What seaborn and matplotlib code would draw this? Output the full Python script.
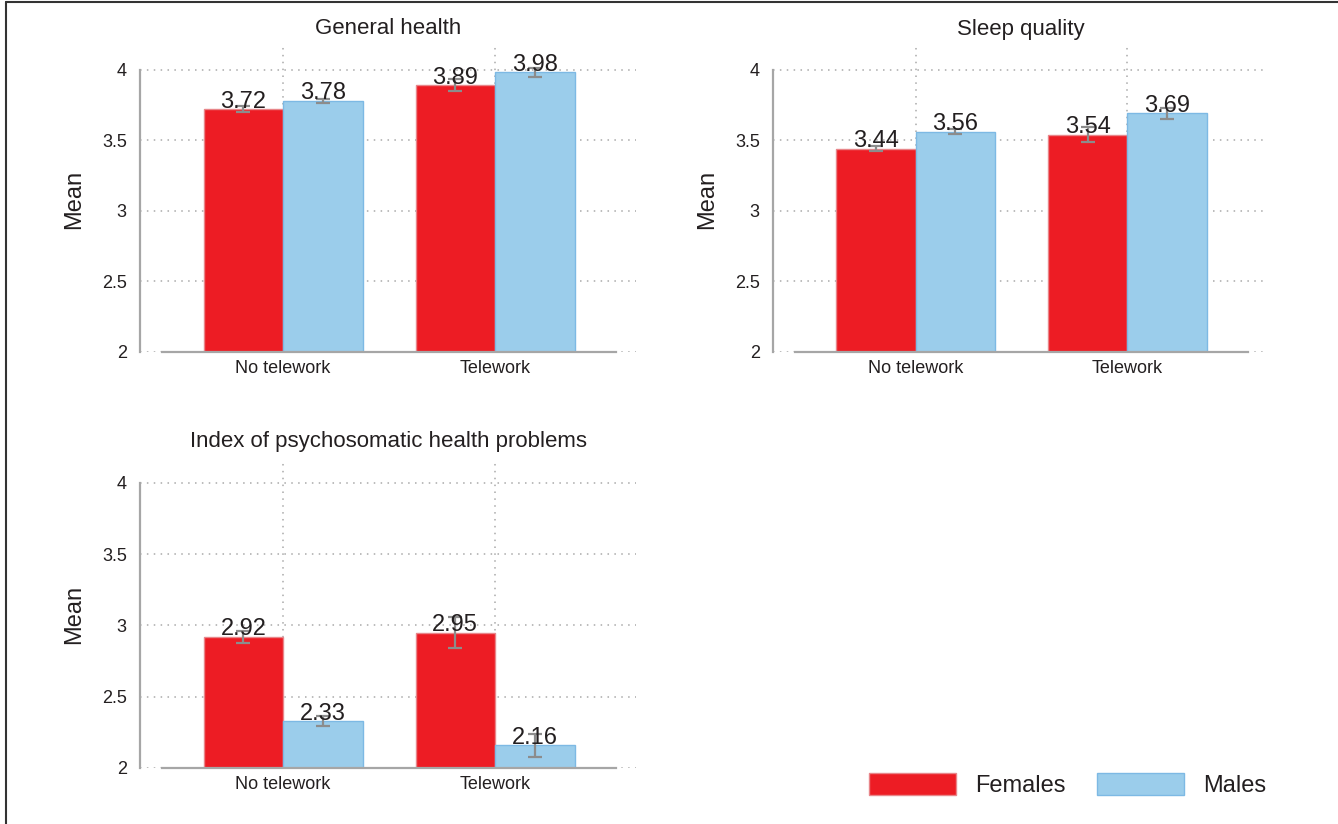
import numpy as np
import pandas as pd
import matplotlib
matplotlib.use("Agg")
import matplotlib.pyplot as plt
from matplotlib.lines import Line2D
from matplotlib.patches import Patch
import seaborn as sns

# Work status groups and sexes
groups = ["No telework", "Telework"]
sexes = ["Females", "Males"]

# Means per outcome (ordered as groups) and half-widths of the confidence intervals
gh_females = [3.72, 3.89]
gh_males = [3.78, 3.98]
gh_err_females = [0.02, 0.045]
gh_err_males = [0.015, 0.03]

sq_females = [3.44, 3.54]
sq_males = [3.56, 3.69]
sq_err_females = [0.02, 0.05]
sq_err_males = [0.018, 0.04]

ps_females = [2.92, 2.95]
ps_males = [2.33, 2.16]
ps_err_females = [0.04, 0.11]
ps_err_males = [0.035, 0.08]

titles = ["General health", "Sleep quality", "Index of psychosomatic health problems"]
ytick_values = [2, 2.5, 3, 3.5, 4]
ytick_labels = ["2", "2.5", "3", "3.5", "4"]

outcomes = [
    (titles[0], gh_females, gh_males, gh_err_females, gh_err_males),
    (titles[1], sq_females, sq_males, sq_err_females, sq_err_males),
    (titles[2], ps_females, ps_males, ps_err_females, ps_err_males),
]

RED = "#ED1C24"
BLUE = "#9BCDEB"
EDGES = {"Females": "#E8868A", "Males": "#7DB9E4"}
TEXT = "#231F20"
AXIS_GRAY = "#A6A6A6"
ERR_GRAY = "#8C8C8C"

sns.set_theme(style="white")
plt.rcParams["font.family"] = ["Liberation Sans", "DejaVu Sans"]

W, H = 1338, 824
fig = plt.figure(figsize=(W / 100, H / 100), dpi=100)


def px_axes(left, top, right, bottom):
    return fig.add_axes([left / W, 1 - bottom / H, (right - left) / W, (bottom - top) / H])


axes = [
    px_axes(140, 47, 636, 352),
    px_axes(773, 47, 1268, 352),
    px_axes(140, 460, 636, 768),
]

for ax, (title, f_vals, m_vals, f_err, m_err) in zip(axes, outcomes):
    df = pd.DataFrame({
        "group": groups * 2,
        "sex": [sexes[0]] * len(groups) + [sexes[1]] * len(groups),
        "mean": f_vals + m_vals,
    })
    sns.barplot(data=df, x="group", y="mean", hue="sex", order=groups, hue_order=sexes,
                palette=[RED, BLUE], errorbar=None, width=0.75, ax=ax, legend=False,
                saturation=1, zorder=3)

    errs = {"Females": f_err, "Males": m_err}
    for container, sex in zip(ax.containers, sexes):
        xs, ys = [], []
        for bar in container:
            bar.set_edgecolor(EDGES[sex])
            bar.set_linewidth(1.0)
            xs.append(bar.get_x() + bar.get_width() / 2)
            ys.append(bar.get_height())
        ax.errorbar(xs, ys, yerr=errs[sex], fmt="none", ecolor=ERR_GRAY,
                    elinewidth=1.6, capsize=5, capthick=1.6, zorder=5)
        for x, y in zip(xs, ys):
            ax.annotate(f"{y:.2f}", (x, y), xytext=(0, 1), textcoords="offset points",
                        ha="center", va="baseline", fontsize=17, color=TEXT, zorder=6)

    ax.set_xlim(-0.675, 1.665)
    ax.set_ylim(2, 4.16)
    ax.set_yticks(ytick_values)
    ax.set_yticklabels(ytick_labels)
    ax.set_xlabel("")
    ax.set_ylabel("Mean", fontsize=17, color=TEXT, labelpad=12)
    ax.set_title(title, fontsize=16, color=TEXT, pad=9)

    ax.tick_params(axis="y", length=6.5, width=1.2, color=AXIS_GRAY, labelsize=13,
                   labelcolor=TEXT, pad=3)
    ax.tick_params(axis="x", length=0, labelsize=13, labelcolor=TEXT, pad=6)

    ax.grid(True, axis="both", color="#A9A9A9", linestyle=(0, (1, 3.5)), linewidth=1.1)
    ax.set_axisbelow(True)

    for side in ("top", "right"):
        ax.spines[side].set_visible(False)
    ax.spines["left"].set_color(AXIS_GRAY)
    ax.spines["left"].set_linewidth(1.6)
    ax.spines["left"].set_bounds(2, 4)
    ax.spines["bottom"].set_color(AXIS_GRAY)
    ax.spines["bottom"].set_linewidth(1.6)
    ax.spines["bottom"].set_bounds(-0.57, 1.57)
    ax.spines["bottom"].set_zorder(4)

handles = [Patch(facecolor=RED, edgecolor=EDGES["Females"], label=sexes[0]),
           Patch(facecolor=BLUE, edgecolor=EDGES["Males"], label=sexes[1])]
fig.legend(handles=handles, loc="center", bbox_to_anchor=((870 + 1265) / 2 / W, 1 - 785 / H),
           ncol=2, frameon=False, fontsize=17, handlelength=3.7, handleheight=1.05,
           handletextpad=0.8, columnspacing=1.3, labelcolor=TEXT)

# Thin frame along the left and top edges of the figure
fig.add_artist(Line2D([6 / W, 6 / W], [0, 1 - 2 / H], transform=fig.transFigure,
                      color="#333333", linewidth=1.5))
fig.add_artist(Line2D([6 / W, 1], [1 - 2 / H, 1 - 2 / H], transform=fig.transFigure,
                      color="#333333", linewidth=1.5))

fig.savefig("out.png", dpi=100, facecolor="white")
